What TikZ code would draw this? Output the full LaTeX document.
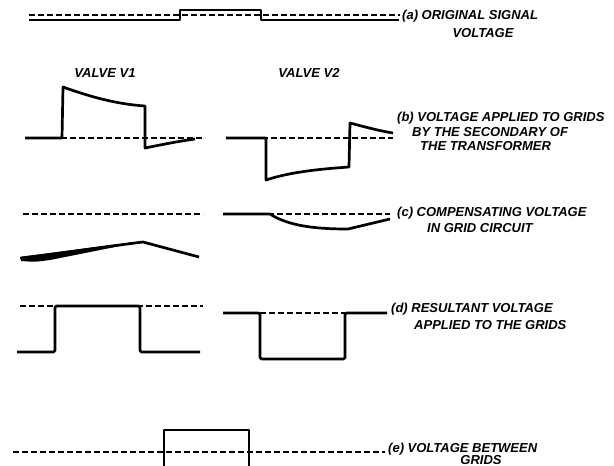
\documentclass[tikz,border=0pt]{standalone}
\usepackage{fontspec}
\setsansfont{Liberation Sans}
\newfontfamily\letterfont{Liberation Sans}
\usetikzlibrary{positioning}

\begin{document}
\begin{tikzpicture}[
  x=1pt, y=-1pt,
  wave/.style={line width=2.7pt, line join=round},
  base/.style={line width=1.9pt, dash pattern=on 5.5pt off 3.5pt},
  lbl/.style={font=\letterfont\bfseries\itshape\fontsize{13}{15}\selectfont, inner sep=0pt, anchor=west},
  head/.style={lbl, anchor=center}
]
\useasboundingbox (0,0) rectangle (614,466);

% labels
\node[lbl] (a1) at (402,16) {(a) ORIGINAL SIGNAL};
\node[head] (a2) at (483,33) {VOLTAGE};
\node[head] (v1) at (105,73) {VALVE V1};
\node[head] (v2) at (309,73) {VALVE V2};
\node[lbl] (b1) at (397,118) {(b) VOLTAGE APPLIED TO GRIDS};
\node[lbl] (b2) at (412,132) {BY THE SECONDARY OF};
\node[lbl] (b3) at (420,146) {THE TRANSFORMER};
\node[lbl] (c1) at (397,213) {(c) COMPENSATING VOLTAGE};
\node[lbl] (c2) at (427,228) {IN GRID CIRCUIT};
\node[lbl] (d1) at (391,309) {(d) RESULTANT VOLTAGE};
\node[lbl] (d2) at (414,325) {APPLIED TO THE GRIDS};
\node[lbl] (e1) at (388,449) {(e) VOLTAGE BETWEEN};
\node[head] (e2) at (481,460) {GRIDS};

% (a) original signal
\draw[base] (29,15) -- (400,15);
\draw[wave] (29,20) -- (180,20) -- (180,10) -- (261,10) -- (261,20) -- (399,20);

% (b) secondary voltage
\draw[base] (25,138) -- (205,138);
\draw[wave] (25,138) -- (62,138) -- (63,87)
  .. controls (88,96) and (115,104) .. (145,106) -- (145,148)
  .. controls (165,144) and (180,141) .. (195,139);
\draw[base] (226,138) -- (393,138);
\draw[wave] (226,138) -- (266,138) -- (266,180)
  .. controls (290,172) and (320,169) .. (349,167) -- (350,123)
  .. controls (365,127) and (380,131) .. (393,133);

% (c) compensating voltage
\draw[base] (23,214) -- (203,214);
\draw[wave] (21,258) .. controls (70,252) and (110,246) .. (143,242) -- (199,257);
\fill (20,257) .. controls (60,252) and (100,246) .. (143,241.5)
  .. controls (100,250) and (70,256) .. (50,260) .. controls (35,262) .. (21,261) -- cycle;
\draw[base] (223,214) -- (390,214);
\draw[wave] (223,214) -- (270,214) .. controls (290,227) and (320,229) .. (348,229) -- (390,219);

% (d) resultant voltage
\draw[base] (20,306) -- (203,306);
\draw[wave, rounded corners=1.5pt] (17,352) -- (55,352) -- (55,306) -- (140,306) -- (140,352) -- (200,352);
\draw[base] (260,313) -- (345,313);
\draw[wave, rounded corners=1.5pt] (223,313) -- (260,313) -- (260,359) -- (345,359) -- (345,313) -- (387,313);

% (e) voltage between grids
\draw[base] (13,452) -- (385,452);
\draw[wave] (164,466) -- (164,430) -- (249,430) -- (249,466);
\end{tikzpicture}
\end{document}
